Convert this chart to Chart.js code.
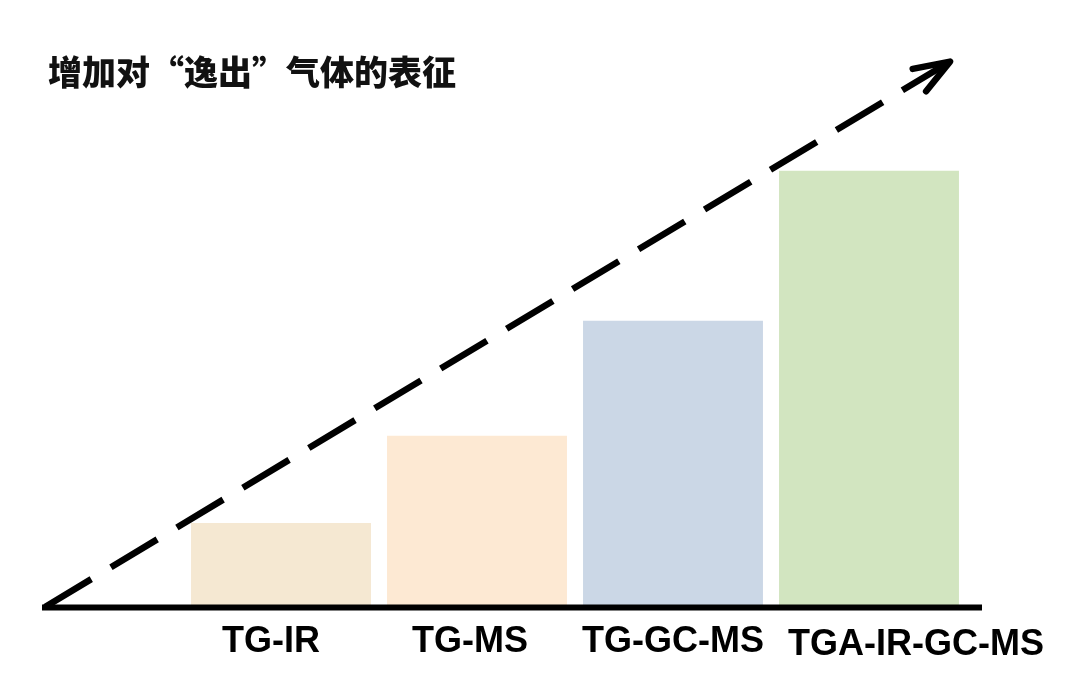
<!DOCTYPE html>
<html><head><meta charset="utf-8">
<script src="https://cdn.jsdelivr.net/npm/chart.js@4.4.0/dist/chart.umd.min.js"></script>
<style>html,body{margin:0;padding:0;background:#fff}#wrap{width:1080px;height:679px}</style>
</head><body><div id="wrap"><canvas id="c"></canvas></div>
<script>
const categories = ['TG-IR', 'TG-MS', 'TG-GC-MS', 'TGA-IR-GC-MS'];
const values = [15.4, 31.4, 52.5, 80.0];
const barColors = ['#f5e8d2', '#fde9d3', '#cbd7e6', '#d2e5c0'];
const trendValues = [0, 100];
const titleText = '增加对“逸出”气体的表征';
// label style nudges (pixels) relative to each category centre
const labelShiftX = [-10, -7, 0, 47];
const labelShiftY = [0, 0, 0, 3];

const decor = {
  id: 'decor',
  afterDatasetsDraw(chart) {
    const {ctx, chartArea, scales} = chart;
    const y0 = scales.y.getPixelForValue(trendValues[0]);
    const y1 = scales.y.getPixelForValue(trendValues[1]);
    const x0 = chartArea.left - 138, x1 = chartArea.right - 17;
    ctx.save();
    ctx.strokeStyle = '#000';
    ctx.lineWidth = 6;
    ctx.beginPath();
    ctx.moveTo(chartArea.left - 141, y0 + 0.5);
    ctx.lineTo(chartArea.right + 15, y0 + 0.5);
    ctx.stroke();
    ctx.lineWidth = 6.5;
    ctx.setLineDash([54, 23]);
    ctx.beginPath();
    ctx.moveTo(x0, y0);
    ctx.lineTo(x1, y1);
    ctx.stroke();
    ctx.setLineDash([]);
    const ang = Math.atan2(y0 - y1, x0 - x1);
    const L = 38, sp = 20 * Math.PI / 180;
    ctx.lineCap = 'round';
    ctx.lineJoin = 'round';
    ctx.beginPath();
    ctx.moveTo(x1 + L * Math.cos(ang - sp), y1 + L * Math.sin(ang - sp));
    ctx.lineTo(x1, y1);
    ctx.lineTo(x1 + L * Math.cos(ang + sp), y1 + L * Math.sin(ang + sp));
    ctx.stroke();
    // category labels
    ctx.fillStyle = '#000';
    ctx.font = 'bold 36px "Liberation Sans", Arial, sans-serif';
    ctx.textAlign = 'center';
    ctx.textBaseline = 'alphabetic';
    categories.forEach((c, i) => {
      const x = scales.x.getPixelForTick(i) + labelShiftX[i];
      ctx.fillText(c, x, y0 + 45 + labelShiftY[i]);
    });
    ctx.restore();
  }
};

new Chart(document.getElementById('c'), {
  type: 'bar',
  data: {
    labels: categories,
    datasets: [{ data: values, backgroundColor: barColors, borderWidth: 0,
      categoryPercentage: 1, barPercentage: 0.918 }]
  },
  options: {
    responsive: true, maintainAspectRatio: false, animation: false,
    devicePixelRatio: 1,
    layout: { padding: { left: 48, right: 113, top: 0, bottom: 0 } },
    plugins: {
      legend: { display: false }, tooltip: { enabled: false },
      title: { display: true, text: titleText, align: 'start', color: '#111',
        font: { family: '"Noto Sans CJK SC"', size: 34, weight: '900', lineHeight: 1.2 },
        padding: { top: 52, bottom: 7 } }
    },
    scales: {
      x: { grid: { display: false, drawTicks: false }, border: { display: false },
        ticks: { display: false },
        afterFit: s => { s.height = 72; } },
      y: { min: 0, max: 93, grid: { display: false }, border: { display: false },
        ticks: { display: false }, afterFit: s => { s.width = 135; } }
    }
  },
  plugins: [decor]
});
</script></body></html>
